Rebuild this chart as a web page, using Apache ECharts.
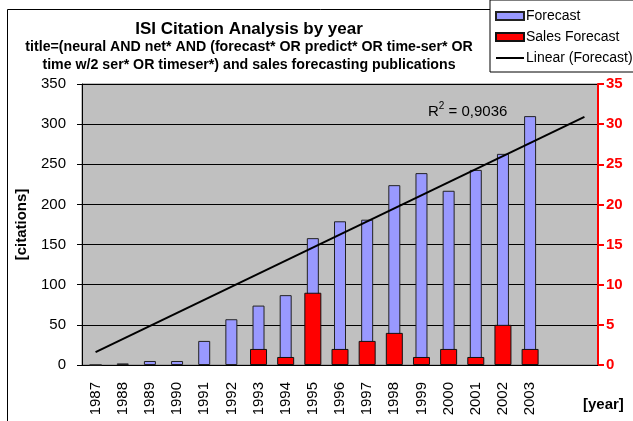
<!DOCTYPE html>
<html>
<head>
<meta charset="utf-8">
<script src="https://cdn.jsdelivr.net/npm/echarts@6/dist/echarts.min.js"></script>
<style>
html, body { margin: 0; padding: 0; background: #fff; }
#main { width: 633px; height: 421px; }
</style>
</head>
<body>
<div id="main"></div>
<script>
var years = ['1987','1988','1989','1990','1991','1992','1993','1994','1995','1996','1997','1998','1999','2000','2001','2002','2003','',''];
var forecast = [0, 2, 5, 5, 30, 57, 74, 87, 158, 179, 181, 224, 239, 217, 243, 263, 310, null, null];
var salesForecast = [null, null, null, null, null, null, 2, 1, 9, 2, 3, 4, 1, 2, 1, 5, 2, null, null];
// trend line: value at first and last category
var trendStart = 16;
var trendEnd = 309;
var leftTicks = { min: 0, max: 350, interval: 50 };
var rightTicks = { min: 0, max: 35, interval: 5 };

var trend = years.map(function (y, i) {
    if (i === 0) return trendStart;
    if (i === years.length - 1) return trendEnd;
    return null;
});

var font = 'Arial, "Liberation Sans", sans-serif';
var myChart = echarts.init(document.getElementById('main'));

var option = {
    backgroundColor: '#fff',
    textStyle: { fontFamily: font },
    animation: false,
    title: {
        text: 'ISI Citation Analysis by year',
        subtext: 'title=(neural AND net* AND (forecast* OR predict* OR time-ser* OR\ntime w/2 ser* OR timeser*) and sales forecasting publications',
        left: 249,
        top: 21,
        textAlign: 'center',
        itemGap: 0,
        padding: 0,
        textStyle: { fontSize: 17, fontWeight: 'bold', color: '#000', fontFamily: font },
        subtextStyle: { fontSize: 14.2, fontWeight: 'bold', color: '#000', lineHeight: 18, fontFamily: font }
    },
    legend: {
        orient: 'vertical',
        left: 490,
        top: 0,
        padding: [9, 20, 7, 5],
        itemWidth: 28,
        itemHeight: 8,
        itemGap: 7,
        borderColor: '#000',
        borderWidth: 1,
        borderRadius: 0,
        backgroundColor: '#fff',
        textStyle: { fontSize: 14, color: '#000', fontFamily: font, padding: [0, 0, 0, -3] },
        data: [
            { name: 'Forecast', icon: 'rect' },
            { name: 'Sales Forecast', icon: 'rect' },
            { name: 'Linear (Forecast)', itemStyle: { opacity: 0 } }
        ]
    },
    grid: {
        left: 82,
        right: 35,
        top: 84,
        bottom: 56,
        show: true,
        backgroundColor: '#C0C0C0',
        borderColor: '#808080',
        borderWidth: 1
    },
    xAxis: [
        {
            type: 'category',
            data: years,
            axisLine: { lineStyle: { color: '#000', width: 1 } },
            axisTick: { length: 5, lineStyle: { color: '#000' } },
            axisLabel: { rotate: 90, fontSize: 15, color: '#000', margin: 17, fontFamily: font, interval: 0 }
        },
        {
            type: 'category',
            data: years,
            show: false
        }
    ],
    yAxis: [
        {
            type: 'value',
            min: leftTicks.min,
            max: leftTicks.max,
            interval: leftTicks.interval,
            name: '[citations]',
            nameLocation: 'middle',
            nameGap: 53,
            nameRotate: 90,
            nameTextStyle: { fontSize: 15, fontWeight: 'bold', color: '#000', fontFamily: font },
            axisLine: { show: true, lineStyle: { color: '#000', width: 1 } },
            axisTick: { show: true, length: 5, lineStyle: { color: '#000' } },
            axisLabel: { fontSize: 15, color: '#000', margin: 16, fontFamily: font },
            splitLine: { show: true, lineStyle: { color: '#000', width: 1 } }
        },
        {
            type: 'value',
            position: 'right',
            min: rightTicks.min,
            max: rightTicks.max,
            interval: rightTicks.interval,
            axisLine: { show: true, lineStyle: { color: '#FF0000', width: 2 } },
            axisTick: { show: true, length: 6, lineStyle: { color: '#FF0000', width: 2 } },
            axisLabel: { fontSize: 15, fontWeight: 'bold', color: '#FF0000', margin: 8, fontFamily: font },
            splitLine: { show: false }
        }
    ],
    series: [
        {
            name: 'Forecast',
            type: 'bar',
            xAxisIndex: 0,
            yAxisIndex: 0,
            barWidth: 12,
            data: forecast,
            itemStyle: { color: '#9999FF', borderColor: '#222', borderWidth: 1 }
        },
        {
            name: 'Sales Forecast',
            type: 'bar',
            xAxisIndex: 1,
            yAxisIndex: 1,
            barWidth: 17,
            data: salesForecast,
            itemStyle: { color: '#FF0000', borderColor: '#111', borderWidth: 1 }
        },
        {
            name: 'Linear (Forecast)',
            type: 'line',
            xAxisIndex: 0,
            yAxisIndex: 0,
            data: trend,
            connectNulls: true,
            symbol: 'none',
            lineStyle: { color: '#000', width: 2 },
            itemStyle: { color: '#000' },
            z: 5
        }
    ],
    graphic: [
        {
            type: 'rect',
            left: 5,
            top: 7,
            shape: { width: 700, height: 500 },
            style: { fill: 'none', stroke: '#000', lineWidth: 1 },
            z: -10,
            silent: true
        },
        {
            type: 'text',
            left: 428,
            top: 101,
            style: {
                text: '{a|R}{b|2}{a| = 0,9036}',
                rich: {
                    a: { fontSize: 15, fontFamily: font, fill: '#000', verticalAlign: 'bottom' },
                    b: { fontSize: 10, fontFamily: font, fill: '#000', padding: [0, 0, 8, 0] }
                }
            },
            z: 10
        },
        {
            type: 'text',
            left: 583,
            top: 397,
            style: { text: '[year]', fontSize: 15, fontWeight: 'bold', fontFamily: font, fill: '#000' },
            z: 10
        }
    ]
};

myChart.setOption(option);
</script>
</body>
</html>
